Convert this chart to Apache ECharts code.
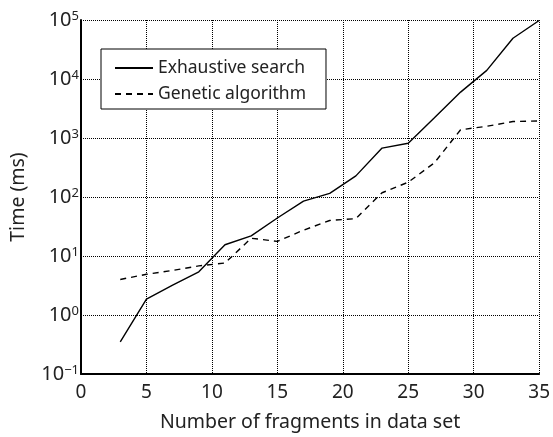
<!DOCTYPE html>
<html>
<head>
<meta charset="utf-8">
<script src="https://cdn.jsdelivr.net/npm/echarts@6/dist/echarts.min.js"></script>
<style>
  html, body { margin: 0; padding: 0; background: #fff; }
  #chart_box { width: 553px; height: 437px; }
</style>
</head>
<body>
<div id="chart_box"></div>
<script>
// number of fragments (x)
const fragments = [3, 5, 7, 9, 11, 13, 15, 17, 19, 21, 23, 25, 27, 29, 31, 33, 35];
// time in ms
const exhaustive = [0.35, 1.86, 3.2, 5.4, 15.5, 22, 44, 85, 115, 228, 675, 815, 2200, 6000, 14000, 49000, 98000];
const genetic = [4.0, 4.9, 5.7, 6.8, 7.6, 20, 17.7, 27.4, 40, 43, 118, 178, 380, 1380, 1580, 1900, 1950];
const seriesNames = ["Exhaustive search", "Genetic algorithm"];

const font = "Noto Sans";

const pairs = (ys) => fragments.map((x, i) => [x, ys[i]]);

let myChart = echarts.init(document.getElementById("chart_box"));
myChart.setOption({
  animation: false,
  textStyle: { fontFamily: font, color: "#222" },
  grid: { left: 80, right: 11, top: 20, bottom: 53 },
  legend: {
    data: seriesNames,
    left: 101,
    top: 49,
    orient: "vertical",
    itemWidth: 38,
    itemHeight: 12,
    itemGap: 8,
    padding: [10, 20, 6, 13],
    borderColor: "#000",
    borderWidth: 1,
    backgroundColor: "#fff",
    itemStyle: { color: "transparent", borderWidth: 0, opacity: 0 },
    textStyle: { fontFamily: font, fontSize: 17.5, color: "#222" },
  },
  xAxis: {
    type: "value",
    min: 0,
    max: 35,
    interval: 5,
    name: "Number of fragments in data set",
    nameLocation: "middle",
    nameGap: 38,
    nameTextStyle: { fontFamily: font, fontSize: 19.5, color: "#222" },
    axisLine: { lineStyle: { color: "#000", width: 2 } },
    axisTick: { show: false },
    axisLabel: { fontFamily: font, fontSize: 19, color: "#222", margin: 9 },
    splitLine: { show: true, lineStyle: { color: "#000", type: "dotted", width: 1 } },
  },
  yAxis: {
    type: "log",
    logBase: 10,
    min: 0.1,
    max: 100000,
    name: "Time (ms)",
    nameLocation: "middle",
    nameGap: 53,
    nameTextStyle: { fontFamily: font, fontSize: 19.5, color: "#222" },
    axisLine: { show: true, lineStyle: { color: "#000", width: 2 } },
    axisTick: { show: false },
    axisLabel: {
      margin: 2,
      formatter: function (value) {
        const e = Math.round(Math.log10(value));
        return "{b|10}{s|" + (e < 0 ? "\u2212" + (-e) : e) + "}";
      },
      rich: {
        b: { fontFamily: font, fontSize: 20, color: "#222", lineHeight: 20, padding: [7, 0, 0, 0], verticalAlign: "bottom" },
        s: { fontFamily: font, fontSize: 13, color: "#222", lineHeight: 14, verticalAlign: "top" },
      },
    },
    splitLine: { show: true, lineStyle: { color: "#000", type: "dotted", width: 1 } },
  },
  series: [
    {
      name: seriesNames[0],
      type: "line",
      data: pairs(exhaustive),
      symbol: "none",
      lineStyle: { color: "#000", width: 1.4 },
      itemStyle: { color: "#000" },
    },
    {
      name: seriesNames[1],
      type: "line",
      data: pairs(genetic),
      symbol: "none",
      lineStyle: { color: "#000", width: 1.4, type: [6, 5] },
      itemStyle: { color: "#000" },
    },
  ],
});
</script>
</body>
</html>
